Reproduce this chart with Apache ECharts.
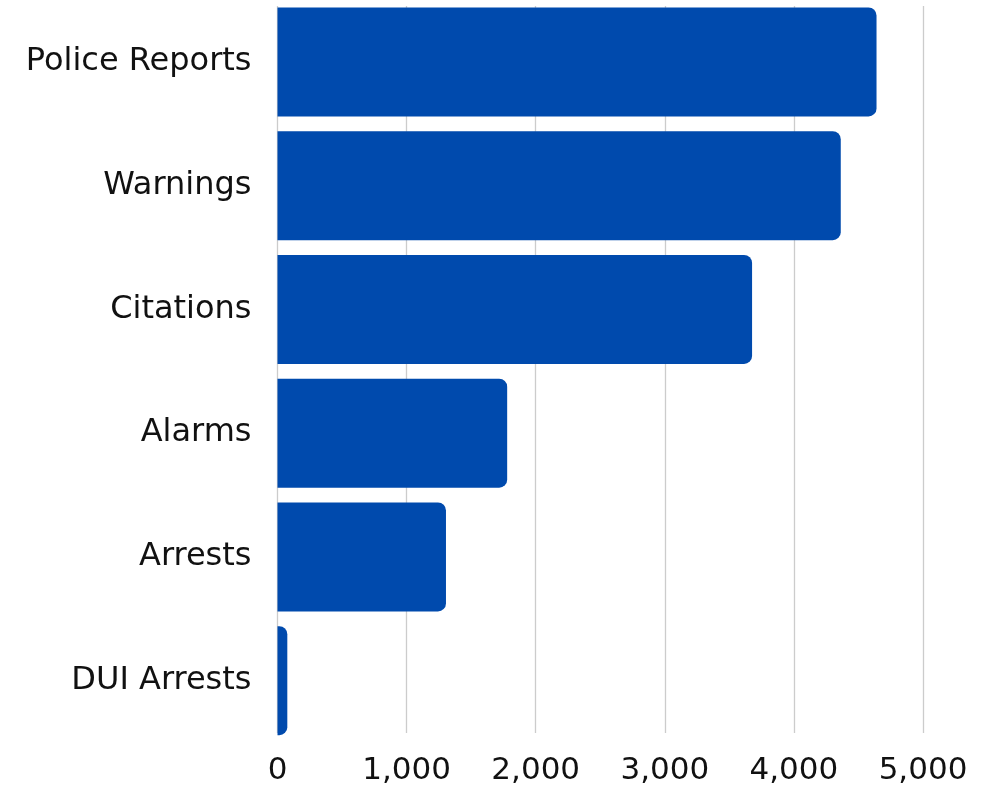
<!DOCTYPE html>
<html>
<head>
<meta charset="utf-8">
<script src="https://cdn.jsdelivr.net/npm/echarts@6/dist/echarts.min.js"></script>
<style>html,body{margin:0;padding:0;background:#fff;}#c{width:997px;height:786px;}</style>
</head>
<body>
<div id="c"></div>
<script>
const categories = ["Police Reports", "Warnings", "Citations", "Alarms", "Arrests", "DUI Arrests"];
const values = [4640, 4363, 3676, 1779, 1305, 76];
const tickMin = 0, tickMax = 5000, tickStep = 1000;

const chart = echarts.init(document.getElementById('c'), null, {renderer: 'canvas'});
const font = 'DejaVu Sans';
chart.setOption({
  animation: false,
  backgroundColor: '#ffffff',
  grid: [
    {left: 277.5, right: 74, top: 6, height: 728},
    {left: 277.5, right: 74, top: -1.5, height: 744}
  ],
  xAxis: [
    {gridIndex: 0, type: 'value', min: tickMin, max: tickMax, interval: tickStep,
     axisLine: {show: false}, axisTick: {show: false},
     splitLine: {show: true, lineStyle: {color: '#cccccc', width: 1.3}},
     axisLabel: {fontFamily: font, fontSize: 31, color: '#111111', margin: 22,
       formatter: v => v.toLocaleString('en-US')}},
    {gridIndex: 1, type: 'value', min: tickMin, max: tickMax, interval: tickStep,
     show: false, splitLine: {show: false}}
  ],
  yAxis: [
    {gridIndex: 0, type: 'category', data: categories, inverse: true,
     axisLine: {show: false}, axisTick: {show: false}, axisLabel: {show: false}},
    {gridIndex: 1, type: 'category', data: categories, inverse: true,
     axisLine: {show: false}, axisTick: {show: false},
     axisLabel: {fontFamily: font, fontSize: 32, color: '#111111', margin: 26,
       padding: [8, 0, 0, 0]}}
  ],
  series: [{
    type: 'bar', xAxisIndex: 1, yAxisIndex: 1, data: values,
    barWidth: 109,
    itemStyle: {color: '#004AAD', borderRadius: [0, 8, 8, 0]}
  }]
});
</script>
</body>
</html>
